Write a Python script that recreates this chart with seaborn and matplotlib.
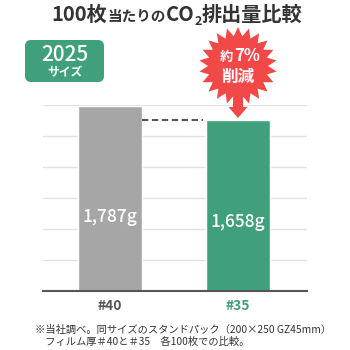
import numpy as np
import pandas as pd
import matplotlib
matplotlib.use("Agg")
import matplotlib.pyplot as plt
import seaborn as sns
from matplotlib.patches import FancyBboxPatch, Polygon, FancyArrow

# ---- data ----
categories = ["#40", "#35"]
values = [1787, 1658]
value_labels = ["1,787g", "1,658g"]
bar_colors = ["#a6a6a6", "#40a07c"]
tick_colors = ["#555555", "#40a07c"]
title_parts = ["100枚", "当たりの", "CO", "2", "排出量比較"]
badge_lines = ["2025", "サイズ"]
burst_lines = ["約", "7%", "削減"]
footnote_lines = ["※当社調べ。同サイズのスタンドパック（200×250 GZ45mm）",
                  "　フィルム厚＃40と＃35　各100枚での比較。"]

sns.set_theme(style="white")
FONT = ["Noto Sans CJK JP", "DejaVu Sans"]
plt.rcParams["font.family"] = FONT

fig = plt.figure(figsize=(3.5, 3.5), dpi=100)
W = H = 350.0
ax = fig.add_axes([43 / W, 1 - 291 / H, 264 / W, 186 / H])

df = pd.DataFrame({"cat": categories, "val": values})
sns.barplot(data=df, x="cat", y="val", hue="cat", palette=bar_colors,
            width=0.5, legend=False, ax=ax, saturation=1)
ax.set_ylim(0, 1800)
ax.set_xlim(-0.523, 1.54)
ax.set_yticks(np.arange(0, 1801, 300))
ax.set_yticklabels([])
ax.yaxis.grid(True, color="#e3e3e3", lw=1)
ax.set_axisbelow(True)
ax.tick_params(axis="y", length=0)
ax.tick_params(axis="x", length=0, pad=6)
for s in ["top", "right", "left"]:
    ax.spines[s].set_visible(False)
ax.spines["bottom"].set_color("#555555")
ax.spines["bottom"].set_linewidth(1.5)
ax.set_xlabel("")
ax.set_ylabel("")
ax.set_xticks(range(len(categories)))
ax.set_xticklabels(categories, fontsize=10, fontweight="bold")
for t, c in zip(ax.get_xticklabels(), tick_colors):
    t.set_color(c)

# value labels inside bars
for i, (v, lab) in enumerate(zip(values, value_labels)):
    ax.text(i, v * 0.4, lab, ha="center", va="center", color="white",
            fontsize=12.5, fontweight="medium")

# dashed comparison line
ax.plot([0.25, 0.75 - 0.02], [values[1], values[1]], ls=(0, (3.5, 2)),
        color="#444444", lw=1.3)

# overlay in pixel coords (y down)
ov = fig.add_axes([0, 0, 1, 1])
ov.set_xlim(0, W)
ov.set_ylim(H, 0)
ov.axis("off")

# title with mixed sizes
fig.canvas.draw()
r = fig.canvas.get_renderer()
sizes = [14.5, 10.5, 14.5, 9, 14.5]
offsets = [0, 0, 0, 4, 0]
pieces = []
for txt, fs in zip(title_parts, sizes):
    t = ov.text(0, 0, txt, fontsize=fs, fontweight="bold", color="#333333",
                va="baseline", ha="left")
    pieces.append(t)
widths = [p.get_window_extent(r).width for p in pieces]
total = sum(widths)
x0 = 177 - total / 2
for p, w, off in zip(pieces, widths, offsets):
    p.set_position((x0, 21 + off))
    x0 += w

# badge
ov.add_patch(FancyBboxPatch((25 + 6, 40 + 6), 79 - 12, 42 - 12,
                            boxstyle="round,pad=6", fc="#40a07c", ec="none"))
ov.text(64.5, 55, badge_lines[0], ha="center", va="center", color="white",
        fontsize=15, fontweight="medium")
ov.text(64.5, 72.5, badge_lines[1], ha="center", va="center", color="white",
        fontsize=8.5, fontweight="bold")

# starburst
cx, cy = 238, 66
n = 22
ang = np.linspace(0, 2 * np.pi, 2 * n, endpoint=False) + np.pi / 2
rad = np.where(np.arange(2 * n) % 2 == 0, 39, 30)
pts = np.c_[cx + rad * np.cos(ang), cy - rad * np.sin(ang)]
red = "#f24848"
ov.add_patch(Polygon(pts, closed=True, fc=red, ec="none"))
ov.add_patch(FancyArrow(cx, 95, 0, 23, width=10, head_width=19,
                        head_length=11, length_includes_head=True,
                        fc=red, ec="none"))
ov.text(cx - 12, 61, burst_lines[0], ha="center", va="baseline", color="white",
        fontsize=9.5, fontweight="bold")
ov.text(cx + 9, 61, burst_lines[1], ha="center", va="baseline", color="white",
        fontsize=12, fontweight="bold")
ov.text(cx, 82, burst_lines[2], ha="center", va="baseline", color="white",
        fontsize=12, fontweight="bold")

# footnote
ov.text(35, 330, footnote_lines[0], ha="left", va="center", color="#333333",
        fontsize=7.4)
ov.text(35, 342, footnote_lines[1], ha="left", va="center", color="#333333",
        fontsize=7.4)

fig.savefig("out.png", dpi=100)
